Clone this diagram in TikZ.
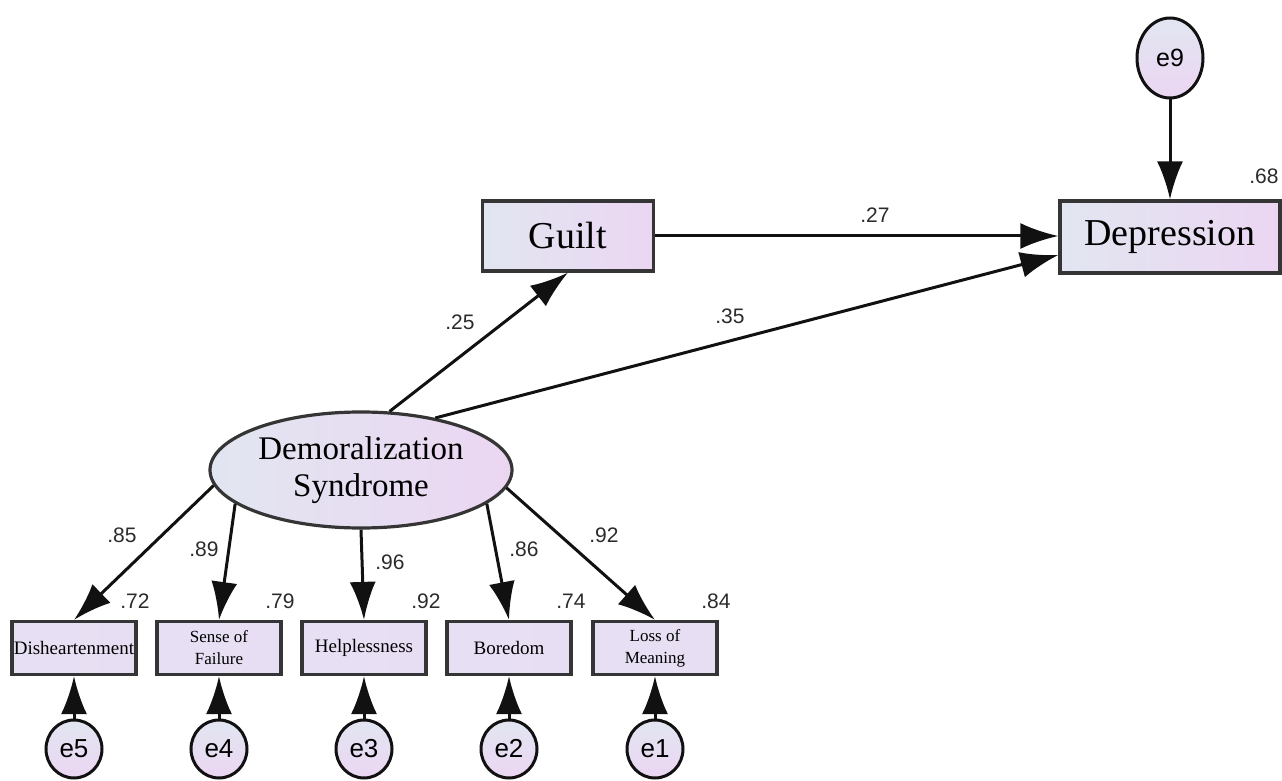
\documentclass[tikz,border=0pt]{standalone}
\usepackage{fontspec}
\setmainfont{Liberation Serif}
\newfontfamily\numfont{Liberation Sans}
\definecolor{smLeft}{HTML}{E2E6F1}
\definecolor{smRight}{HTML}{EBD6F2}
\definecolor{smBox}{HTML}{E8DEF3}
\definecolor{smInk}{HTML}{111111}
\definecolor{smNum}{HTML}{2B2B2B}
\usetikzlibrary{arrows.meta,shapes.geometric}
\tikzset{
  var/.style={draw=smInk!85, line width=1.6pt, left color=smLeft, right color=smRight, inner sep=0pt},
  item/.style={draw=smInk!85, line width=1.6pt, left color=smBox!80!smLeft, right color=smBox, minimum width=62pt, minimum height=26.5pt, inner sep=0pt, align=center},
  err/.style={ellipse, draw=smInk, line width=1.5pt, top color=smLeft, bottom color=smRight, inner sep=0pt, font=\numfont\fontsize{13}{13}\selectfont},
  link/.style={->, line width=1.5pt, smInk},
  coef/.style={font=\numfont\fontsize{10.5}{10.5}\selectfont, text=smNum, inner sep=0pt},
}

\begin{document}
\begin{tikzpicture}[x=0.5pt, y=-0.5pt, >={Latex[length=19pt,width=13pt]}]
    \useasboundingbox (0,0) rectangle (1282,781);
    % latent and outcomes
    \node[var, ellipse, minimum width=151pt, minimum height=58pt, align=center,
          font=\fontsize{16.5}{18.5}\selectfont] (dem) at (361,470) {Demoralization\\Syndrome};
    \node[var, minimum width=85.5pt, minimum height=35pt, font=\fontsize{19}{19}\selectfont] (guilt) at (568,236) {Guilt};
    \node[var, minimum width=110pt, minimum height=36pt, font=\fontsize{19}{19}\selectfont] (dep) at (1170,237) {Depression};
    \node[err, minimum width=33pt, minimum height=40pt, font=\numfont\fontsize{12.5}{12.5}\selectfont] (e9) at (1170,58) {e9};
    % indicators
    \node[item, font=\fontsize{9.5}{9.5}\selectfont] (dis) at (74,648) {Disheartenment};
    \node[item, font=\fontsize{8.5}{11}\selectfont] (fail) at (219,648) {Sense of\\Failure};
    \node[item, font=\fontsize{9.5}{9.5}\selectfont] (help) at (364,648) {Helplessness};
    \node[item, font=\fontsize{9.5}{9.5}\selectfont] (bore) at (509,648) {Boredom};
    \node[item, font=\fontsize{8.5}{11}\selectfont] (loss) at (655,648) {Loss of\\Meaning};
    \foreach \n/\x/\t in {e5/74/dis, e4/219/fail, e3/364/help, e2/509/bore, e1/655/loss}{
      \node[err, minimum width=28pt, minimum height=29pt] (\n) at (\x,749) {\n};
      \draw[link] (\n.north) -- (\t.south);
    }
    % paths
    \draw[link] (dem.64) -- (guilt.south);
    \draw[link] (dem.35) -- ([yshift=-9pt]dep.west);
    \draw[link] (guilt.east) -- (guilt.east -| dep.west);
    \draw[link] (e9.south) -- (dep.north);
    \draw[link] (dem.186) -- (dis.north);
    \draw[link] (dem.195) -- (fail.north);
    \draw[link] (dem.270) -- (help.north);
    \draw[link] (dem.345) -- (bore.north);
    \draw[link] (dem.353.5) -- (loss.north);
    % estimates
    \node[coef] (c25) at (460,322) {.25};
    \node[coef] (c35) at (730,316) {.35};
    \node[coef] (c27) at (875,215) {.27};
    \node[coef, anchor=west] (r68) at (1249,176) {.68};
    \node[coef] (c85) at (122,535) {.85};
    \node[coef] (c89) at (204,549) {.89};
    \node[coef] (c96) at (390,562) {.96};
    \node[coef] (c86) at (524,549) {.86};
    \node[coef] (c92) at (604,535) {.92};
    \node[coef] (r72) at (135,601) {.72};
    \node[coef] (r79) at (280,601) {.79};
    \node[coef] (r92) at (426,601) {.92};
    \node[coef] (r74) at (571,601) {.74};
    \node[coef] (r84) at (716,601) {.84};
\end{tikzpicture}
\end{document}
